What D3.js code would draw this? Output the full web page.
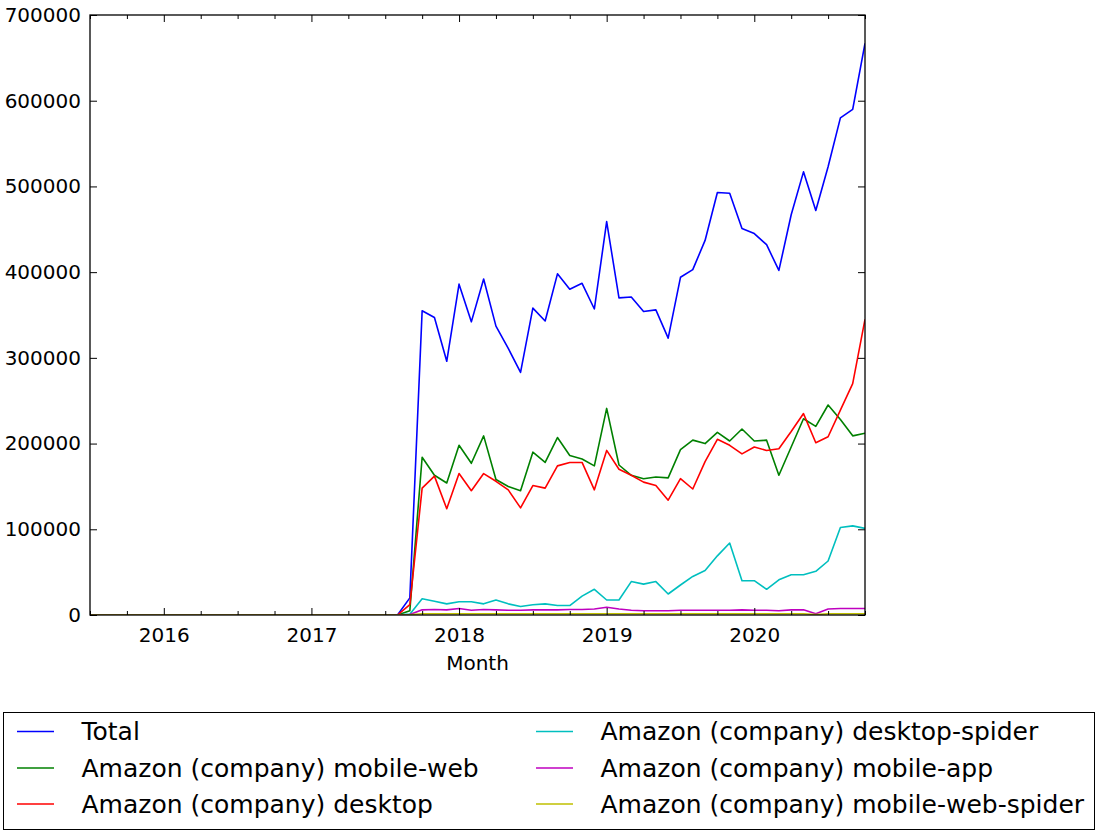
<!DOCTYPE html>
<html>
<head>
<meta charset="utf-8">
<script src="https://cdn.jsdelivr.net/npm/d3@7"></script>
<style>
  body { margin: 0; background: #fff; }
  svg { display: block; font-family: "DejaVu Sans", sans-serif; }
</style>
</head>
<body>
<svg id="chart" width="1104" height="835"></svg>
<script>
// Months 2015-07 .. 2020-10 (64 monthly periods)
const startYear = 2015, startMonth = 7, monthCount = 64;
const months = d3.range(monthCount).map(i => {
  const m = startMonth - 1 + i;
  return { year: startYear + Math.floor(m / 12), month: (m % 12) + 1 };
});

const zeros26 = [0,0,0,0,0,0,0,0,0,0,0,0,0,0,0,0,0,0,0,0,0,0,0,0,0,0];

const total = zeros26.concat([20000, 355000, 347000, 296000, 386000, 342000, 392000, 337000, 311000, 283000,
  358000, 343000, 398000, 380000, 387000, 357000, 459000, 370000, 371000, 354000,
  356000, 323000, 394000, 403000, 437000, 493000, 492000, 451000, 445000, 432000,
  402000, 467000, 517000, 472000, 523000, 580000, 590000, 667000]);

const mobileWeb = zeros26.concat([5000, 184000, 163000, 154000, 198000, 177000, 209000, 158000, 150000, 145000,
  190000, 178000, 207000, 186000, 182000, 174000, 241000, 175000, 163000, 159000,
  161000, 160000, 193000, 204000, 200000, 213000, 203000, 217000, 203000, 204000,
  163000, 196000, 229000, 220000, 245000, 228000, 209000, 212000]);

const desktop = zeros26.concat([12000, 148000, 162000, 124000, 165000, 145000, 165000, 156000, 146000, 125000,
  151000, 148000, 174000, 178000, 178000, 146000, 192000, 170000, 163000, 155000,
  151000, 134000, 159000, 147000, 179000, 205000, 198000, 188000, 196000, 192000,
  194000, 214000, 235000, 201000, 208000, 239000, 270000, 345000]);

const desktopSpider = zeros26.concat([1000, 19000, 16000, 13000, 15500, 15500, 13000, 17500, 13000, 10000,
  12000, 13000, 11000, 11000, 22000, 30000, 17500, 17500, 39000, 36000,
  39000, 24500, 35000, 45000, 52000, 69000, 84000, 40000, 40000, 30000,
  41000, 47000, 47000, 51000, 63000, 102000, 104000, 101000]);

const mobileApp = zeros26.concat([500, 6000, 6500, 6000, 7500, 5500, 6500, 6000, 5500, 5500,
  6000, 6000, 6000, 6500, 6500, 7000, 9000, 7000, 5500, 5000,
  5000, 5000, 5500, 5500, 5500, 5500, 5500, 6000, 5500, 5500,
  5000, 6000, 6000, 1500, 7000, 7500, 7500, 7500]);

const mobileWebSpider = zeros26.concat([200, 1500, 1500, 1500, 1500, 1500, 1500, 1500, 1500, 1500,
  1500, 1500, 1500, 1500, 1500, 1500, 1500, 1500, 1500, 1500,
  1500, 1500, 1500, 1500, 1500, 1500, 1500, 1500, 1500, 1500,
  1500, 1500, 1500, 500, 1500, 1500, 1500, 1500]);

const seriesNames = ["Total", "Amazon (company) mobile-web", "Amazon (company) desktop",
  "Amazon (company) desktop-spider", "Amazon (company) mobile-app", "Amazon (company) mobile-web-spider"];
const seriesValues = [total, mobileWeb, desktop, desktopSpider, mobileApp, mobileWebSpider];
const seriesColors = ["#0000ff", "#008000", "#ff0000", "#00bfbf", "#bf00bf", "#bfbf00"];

const yTicks = [0, 100000, 200000, 300000, 400000, 500000, 600000, 700000];

// Layout
const L = 90, R = 865, T = 15, B = 615;
const svg = d3.select("#chart");
const x = d3.scaleLinear().domain([0, monthCount - 1]).range([L, R]);
const y = d3.scaleLinear().domain([0, 700000]).range([B, T]);

const majorIdx = months.map((m, i) => i).filter(i => months[i].month === 1);
const minorIdx = months.map((m, i) => i).filter(i => (months[i].month - 1) % 3 === 0 && months[i].month !== 1);

// Lines
const line = d3.line().x((d, i) => x(i)).y(d => y(d));
const plot = svg.append("g");
plot.append("clipPath").attr("id", "clip").append("rect")
  .attr("x", L).attr("y", T).attr("width", R - L).attr("height", B - T);
seriesValues.forEach((vals, k) => {
  plot.append("path")
    .attr("clip-path", "url(#clip)")
    .attr("d", line(vals))
    .attr("fill", "none")
    .attr("stroke", seriesColors[k])
    .attr("stroke-width", 1.6)
    .attr("stroke-linejoin", "round");
});

// Axes (ticks inward on all sides)
const fs = 20;
const axB = svg.append("g").attr("transform", `translate(0,${B})`)
  .call(d3.axisBottom(x).tickValues(majorIdx).tickFormat(i => months[i].year).tickSizeInner(-7).tickSizeOuter(0).tickPadding(13));
const axBm = svg.append("g").attr("transform", `translate(0,${B})`)
  .call(d3.axisBottom(x).tickValues(minorIdx).tickFormat("").tickSizeInner(-4).tickSizeOuter(0));
const axT = svg.append("g").attr("transform", `translate(0,${T})`)
  .call(d3.axisTop(x).tickValues(majorIdx).tickFormat("").tickSizeInner(-7).tickSizeOuter(0));
const axTm = svg.append("g").attr("transform", `translate(0,${T})`)
  .call(d3.axisTop(x).tickValues(minorIdx).tickFormat("").tickSizeInner(-4).tickSizeOuter(0));
const axL = svg.append("g").attr("transform", `translate(${L},0)`)
  .call(d3.axisLeft(y).tickValues(yTicks).tickFormat(d3.format("d")).tickSizeInner(-7).tickSizeOuter(0).tickPadding(9));
const axR = svg.append("g").attr("transform", `translate(${R},0)`)
  .call(d3.axisRight(y).tickValues(yTicks).tickFormat("").tickSizeInner(-7).tickSizeOuter(0));

[axB, axBm, axT, axTm, axL, axR].forEach(a => {
  a.select(".domain").remove();
  a.selectAll("line").attr("stroke", "#000").attr("stroke-width", 1);
  a.selectAll("text").attr("font-size", fs).attr("fill", "#000").attr("font-family", "DejaVu Sans");
});

// Frame
svg.append("rect").attr("x", L).attr("y", T).attr("width", R - L).attr("height", B - T)
  .attr("fill", "none").attr("stroke", "#000").attr("stroke-width", 1.3);

// X label
svg.append("text").attr("x", (L + R) / 2).attr("y", 670).attr("text-anchor", "middle")
  .attr("font-size", fs).attr("fill", "#000").text("Month");

// Legend
const lg = svg.append("g");
lg.append("rect").attr("x", 3.5).attr("y", 712.5).attr("width", 1091).attr("height", 117)
  .attr("fill", "#fff").attr("stroke", "#000").attr("stroke-width", 1);
const colX = [17, 536];
const rowY = [731.5, 768, 804];
seriesNames.forEach((name, k) => {
  const c = Math.floor(k / 3), r = k % 3;
  lg.append("line").attr("x1", colX[c]).attr("x2", colX[c] + 37)
    .attr("y1", rowY[r]).attr("y2", rowY[r])
    .attr("stroke", seriesColors[k]).attr("stroke-width", 1.6);
  lg.append("text").attr("x", colX[c] + 64.5).attr("y", rowY[r] + 8.5)
    .attr("font-size", 25).attr("fill", "#000").text(name);
});
</script>
</body>
</html>
